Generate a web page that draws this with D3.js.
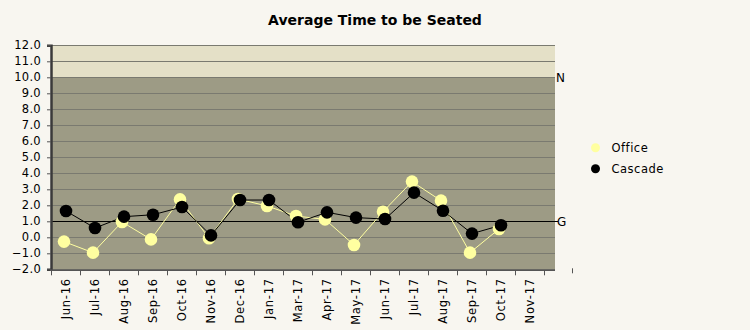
<!DOCTYPE html>
<html>
<head>
<meta charset="utf-8">
<script src="https://cdn.jsdelivr.net/npm/d3@7"></script>
<style>
  html, body { margin: 0; padding: 0; background: #f8f6f0; }
  svg { display: block; }
  text { font-family: "DejaVu Sans", Verdana, sans-serif; fill: #000; }
</style>
</head>
<body>
<svg id="chart" width="750" height="330"></svg>
<script>
const categories = ["Jun-16","Jul-16","Aug-16","Sep-16","Oct-16","Nov-16","Dec-16","Jan-17","Mar-17","Apr-17","May-17","Jun-17","Jul-17","Aug-17","Sep-17","Oct-17","Nov-17"];
const officeValues  = [-0.27, -0.96, 0.96, -0.13, 2.37, -0.06, 2.39, 1.96, 1.33, 1.12, -0.48, 1.60, 3.48, 2.29, -0.96, 0.52, null];
const cascadeValues = [1.64, 0.58, 1.29, 1.41, 1.89, 0.12, 2.33, 2.33, 0.94, 1.56, 1.23, 1.14, 2.79, 1.66, 0.23, 0.75, null];
const yTicks = [-2,-1,0,1,2,3,4,5,6,7,8,9,10,11,12];
const seriesNames = ["Office", "Cascade"];
const goalValue = 1.0;     // "G" line
const normValue = 10.0;    // "N" boundary
const title = "Average Time to be Seated";

const svg = d3.select("#chart");
const plotLeft = 51, plotRight = 555, plotTop = 45.3, plotBottom = 269.3;

const x = d3.scaleBand().domain(categories).range([51, 544]).padding(0);
const y = d3.scaleLinear().domain([-2, 12]).range([plotBottom, plotTop]);

// background bands
svg.append("rect").attr("x", plotLeft).attr("y", y(12)).attr("width", plotRight - plotLeft)
  .attr("height", y(normValue) - y(12)).attr("fill", "#e4e0c7");
svg.append("rect").attr("x", plotLeft).attr("y", y(normValue)).attr("width", plotRight - plotLeft)
  .attr("height", y(-2) - y(normValue)).attr("fill", "#9d9b85");

// gridlines
svg.append("g").selectAll("line").data(yTicks).join("line")
  .attr("x1", plotLeft).attr("x2", plotRight)
  .attr("y1", d => Math.round(y(d)) + 0.5).attr("y2", d => Math.round(y(d)) + 0.5)
  .attr("stroke", "#7a7a70").attr("stroke-width", 1);

// goal line
svg.append("line").attr("x1", plotLeft).attr("x2", 558)
  .attr("y1", Math.round(y(goalValue)) + 0.5).attr("y2", Math.round(y(goalValue)) + 0.5)
  .attr("stroke", "#000").attr("stroke-width", 1);
svg.append("text").attr("x", 557).attr("y", y(goalValue) + 4.5).attr("font-size", 12).text("G");
svg.append("text").attr("x", 556).attr("y", y(normValue) + 5).attr("font-size", 12).text("N");

// y axis
const yAxis = svg.append("g").attr("transform", `translate(${plotLeft},0)`)
  .call(d3.axisLeft(y).tickValues(yTicks).tickFormat(d3.format(".1f")).tickSize(4).tickPadding(6));
yAxis.select(".domain").attr("stroke", "#3a3a3a").attr("stroke-width", 2.5);
yAxis.selectAll(".tick line").attr("stroke", "#555");
yAxis.selectAll("text").attr("font-size", 11.5).attr("letter-spacing", "0.3px")
  .style("font-family", "DejaVu Sans").attr("fill", "#000");

// x axis
const xAxis = svg.append("g").attr("transform", `translate(0,${plotBottom + 1})`)
  .call(d3.axisBottom(x).tickSize(0).tickSizeOuter(0));
xAxis.select(".domain").remove();
svg.append("line").attr("x1", plotLeft - 1).attr("x2", plotRight).attr("y1", plotBottom + 1).attr("y2", plotBottom + 1)
  .attr("stroke", "#555").attr("stroke-width", 1.5);
// category boundary ticks
const boundaries = categories.map(c => x(c)).concat([x(categories[categories.length - 1]) + x.bandwidth()]);
svg.append("g").selectAll("line").data(boundaries).join("line")
  .attr("x1", d => Math.round(d) + 0.5).attr("x2", d => Math.round(d) + 0.5)
  .attr("y1", plotBottom + 1).attr("y2", plotBottom + 6).attr("stroke", "#555");
svg.append("line").attr("x1", 572.5).attr("x2", 572.5).attr("y1", plotBottom - 1).attr("y2", plotBottom + 4).attr("stroke", "#555");
xAxis.selectAll(".tick text")
  .attr("transform", "rotate(-90)")
  .attr("x", -8).attr("y", 0).attr("dy", "0.35em")
  .attr("text-anchor", "end")
  .attr("font-size", 11.5).attr("letter-spacing", "0.7px")
  .style("font-family", "DejaVu Sans").attr("fill", "#000");

// series
const cx = i => x(categories[i]) + x.bandwidth() / 2;
const series = [
  { name: seriesNames[0], values: officeValues, color: "#ffffa0", dx: -1.5 },
  { name: seriesNames[1], values: cascadeValues, color: "#000000", dx: 0.5 }
];
series.forEach(s => {
  const pts = s.values.map((v, i) => ({ i, v })).filter(p => p.v !== null);
  const line = d3.line().x(p => cx(p.i) + s.dx).y(p => y(p.v));
  svg.append("path").datum(pts).attr("d", line).attr("fill", "none")
    .attr("stroke", s.color).attr("stroke-width", 1);
});
series.forEach(s => {
  const pts = s.values.map((v, i) => ({ i, v })).filter(p => p.v !== null);
  svg.append("g").selectAll("circle").data(pts).join("circle")
    .attr("cx", p => cx(p.i) + s.dx).attr("cy", p => y(p.v)).attr("r", 6.3)
    .attr("fill", s.color);
});

// legend
const legend = svg.append("g");
series.forEach((s, k) => {
  legend.append("circle").attr("cx", 595.5).attr("cy", 147.7 + k * 21).attr("r", 4.5).attr("fill", s.color);
  legend.append("text").attr("x", 611.5).attr("y", 152 + k * 21).attr("font-size", 11.5)
    .attr("letter-spacing", "0.5px").text(s.name);
});

// title
svg.append("text").attr("x", 375).attr("y", 25).attr("text-anchor", "middle")
  .attr("font-size", 14).attr("font-weight", "bold").text(title);
</script>
</body>
</html>
